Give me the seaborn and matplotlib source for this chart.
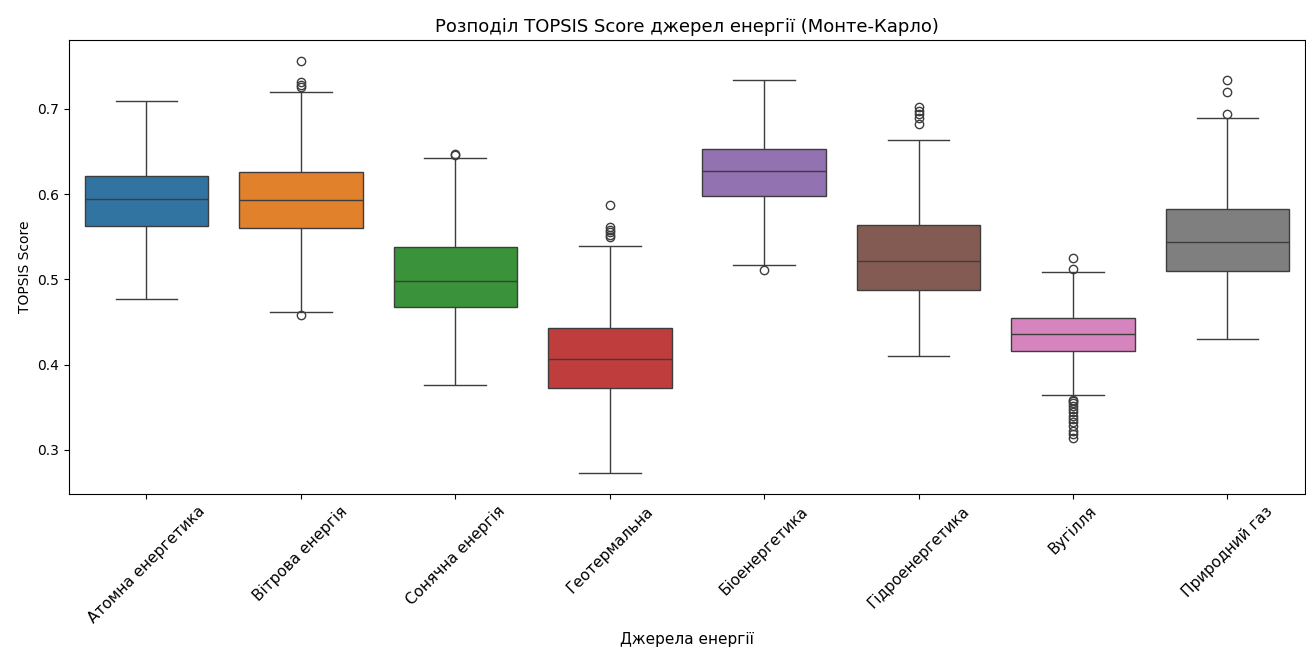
import numpy as np
import pandas as pd
import matplotlib
matplotlib.use("Agg")
import matplotlib.pyplot as plt
import seaborn as sns

categories = ["Атомна енергетика", "Вітрова енергія", "Сонячна енергія", "Геотермальна",
              "Біоенергетика", "Гідроенергетика", "Вугілля", "Природний газ"]
whisker_low = [0.4766, 0.4621, 0.3760, 0.2723, 0.5169, 0.4101, 0.3643, 0.4303]
q1 = [0.5630, 0.5600, 0.4673, 0.3722, 0.5983, 0.4872, 0.4163, 0.5095]
median = [0.5940, 0.5928, 0.4985, 0.4062, 0.6269, 0.5220, 0.4359, 0.5435]
q3 = [0.6217, 0.6257, 0.5380, 0.4426, 0.6530, 0.5642, 0.4543, 0.5822]
whisker_high = [0.7094, 0.7196, 0.6425, 0.5392, 0.7340, 0.6636, 0.5090, 0.6894]
outliers = [
    [],
    [0.4586, 0.7262, 0.7285, 0.7313, 0.7563],
    [0.6460, 0.6472],
    [0.5494, 0.5521, 0.5552, 0.5580, 0.5611, 0.5873],
    [0.5114],
    [0.6824, 0.6891, 0.6941, 0.6980, 0.7020],
    [0.3588, 0.3570, 0.3550, 0.3518, 0.3480, 0.3440, 0.3400, 0.3362, 0.3323,
     0.3284, 0.3225, 0.3186, 0.3135, 0.5120, 0.5247],
    [0.6941, 0.7196, 0.7340],
]

# Build a sample per category whose box statistics equal the values above
block = 50
rows = []
for i, cat in enumerate(categories):
    vals = ([whisker_low[i]] + [q1[i]] * block + [median[i]] * block
            + [q3[i]] * block + [whisker_high[i]] + outliers[i])
    rows += [(cat, v) for v in vals]
df = pd.DataFrame(rows, columns=["Джерела енергії", "TOPSIS Score"])

fig, ax = plt.subplots(figsize=(13.06, 6.5), dpi=100)
sns.boxplot(data=df, x="Джерела енергії", y="TOPSIS Score", hue="Джерела енергії",
            order=categories, hue_order=categories, palette="tab10", legend=False, ax=ax)
ax.set_title("Розподіл TOPSIS Score джерел енергії (Монте-Карло)", fontsize=13)
ax.set_xlabel("Джерела енергії", fontsize=11)
ax.set_ylabel("TOPSIS Score")
ax.tick_params(axis="x", rotation=45, labelsize=11)
fig.subplots_adjust(left=0.053, right=0.999, top=0.938, bottom=0.24)
fig.savefig("out.png", dpi=100)
